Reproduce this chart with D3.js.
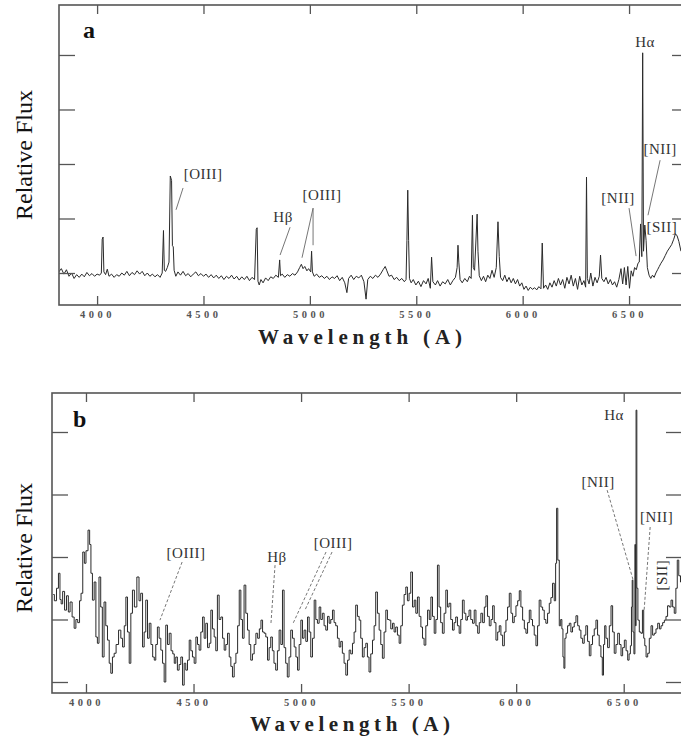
<!DOCTYPE html>
<html>
<head>
<meta charset="utf-8">
<script src="https://cdn.jsdelivr.net/npm/d3@7"></script>
<style>
  body { margin: 0; background: #fff; }
  svg { display: block; font-family: "Liberation Serif", "Times New Roman", serif; }
</style>
</head>
<body>
<svg id="chart" width="681" height="743"></svg>
<script>
// tick values shared by both panels
const xTicks = [4000, 4500, 5000, 5500, 6000, 6500];
const fluxTicks = [0, 1, 2, 3, 4];

// panel a spectrum: [wavelength (A), relative flux]
const specA = [
  [3820,0.02],[3832,0.08],[3844,-0.02],[3856,0.06],[3868,-0.06],[3880,0.00],[3892,-0.10],[3904,-0.03],
  [3916,-0.08],[3928,-0.02],[3940,-0.07],[3952,0.01],[3964,-0.05],[3976,-0.01],[3988,-0.06],[4000,-0.02],
  [4012,-0.04],[4020,0.00],[4024,0.62],[4028,0.66],[4032,0.02],[4040,-0.03],[4048,0.07],[4056,-0.06],
  [4068,-0.02],[4080,-0.08],[4092,-0.03],[4104,-0.06],[4116,0.00],[4128,-0.04],[4140,0.03],[4152,-0.05],
  [4164,0.01],[4176,-0.03],[4188,0.04],[4200,-0.02],[4212,0.03],[4224,-0.05],[4236,0.00],[4248,-0.06],
  [4260,-0.02],[4272,-0.07],[4284,-0.03],[4296,-0.08],[4306,0.00],[4312,0.78],[4316,0.05],[4322,0.03],
  [4330,0.10],[4338,0.20],[4344,1.78],[4350,1.70],[4354,0.50],[4358,0.48],[4362,0.05],[4370,-0.06],
  [4380,0.02],[4392,-0.04],[4404,0.03],[4416,-0.05],[4428,-0.01],[4440,-0.07],[4452,-0.02],[4464,0.02],
  [4476,-0.05],[4488,-0.01],[4500,-0.06],[4512,-0.02],[4524,-0.08],[4536,-0.03],[4548,-0.09],[4560,-0.04],
  [4572,-0.10],[4584,-0.05],[4596,-0.12],[4608,-0.06],[4620,-0.10],[4632,-0.04],[4644,-0.11],[4656,-0.06],
  [4668,-0.13],[4680,-0.07],[4692,-0.12],[4704,-0.06],[4716,-0.14],[4728,-0.08],[4740,-0.12],[4748,0.80],
  [4752,0.83],[4756,-0.15],[4762,-0.22],[4770,-0.12],[4780,-0.18],[4792,-0.09],[4804,-0.14],[4816,-0.07],
  [4828,-0.10],[4840,-0.04],[4852,-0.08],[4858,0.24],[4862,-0.05],[4870,-0.02],[4882,-0.08],[4894,-0.03],
  [4906,-0.06],[4918,-0.01],[4930,-0.04],[4942,0.02],[4952,0.10],[4960,0.16],[4968,0.08],[4976,0.12],
  [4986,0.04],[4994,0.08],[5004,0.02],[5008,0.40],[5012,0.02],[5020,-0.06],[5032,-0.02],[5044,-0.08],
  [5056,-0.05],[5068,-0.10],[5080,-0.06],[5092,-0.12],[5104,-0.07],[5116,-0.10],[5128,-0.05],[5140,-0.14],
  [5152,-0.08],[5164,-0.18],[5174,-0.36],[5182,-0.10],[5194,-0.04],[5206,-0.12],[5218,-0.06],[5230,-0.09],
  [5242,-0.04],[5254,-0.16],[5264,-0.48],[5272,-0.12],[5284,-0.06],[5296,-0.10],[5308,-0.04],[5320,-0.08],
  [5332,-0.02],[5344,0.06],[5354,0.12],[5362,0.04],[5372,-0.06],[5384,-0.04],[5396,-0.12],[5408,-0.08],
  [5420,-0.14],[5432,-0.10],[5444,-0.16],[5452,-0.12],[5456,0.60],[5460,1.52],[5464,0.60],[5468,-0.10],
  [5476,-0.18],[5486,-0.12],[5498,-0.22],[5510,-0.15],[5522,-0.25],[5534,-0.14],[5546,-0.20],[5556,-0.10],
  [5566,-0.28],[5572,0.29],[5578,-0.16],[5590,-0.22],[5600,-0.14],[5612,-0.24],[5624,-0.16],[5636,-0.20],
  [5648,-0.12],[5660,-0.22],[5672,-0.14],[5684,-0.08],[5692,0.10],[5696,0.51],[5700,0.20],[5706,-0.12],
  [5716,-0.18],[5728,-0.10],[5740,-0.16],[5750,-0.06],[5758,-0.10],[5764,1.06],[5768,0.10],[5774,0.05],
  [5786,1.08],[5790,0.40],[5796,-0.05],[5806,-0.14],[5816,-0.06],[5826,-0.16],[5836,-0.04],[5846,-0.10],
  [5856,0.05],[5866,-0.08],[5876,0.10],[5884,0.94],[5890,0.30],[5896,-0.08],[5906,-0.14],[5916,-0.04],
  [5926,-0.16],[5936,-0.08],[5946,-0.18],[5956,-0.10],[5966,-0.20],[5976,-0.12],[5986,-0.24],[5996,-0.18],
  [6006,-0.30],[6016,-0.24],[6026,-0.32],[6036,-0.26],[6046,-0.30],[6056,-0.27],[6066,-0.31],[6076,-0.25],
  [6086,-0.29],[6092,0.55],[6098,-0.28],[6108,-0.22],[6118,-0.30],[6128,-0.18],[6138,-0.26],[6148,-0.14],
  [6158,-0.24],[6168,-0.10],[6178,-0.22],[6188,-0.12],[6198,-0.28],[6208,-0.08],[6218,-0.20],[6228,-0.04],
  [6238,-0.24],[6248,-0.10],[6258,-0.30],[6268,-0.06],[6278,-0.22],[6288,-0.14],[6296,-0.26],[6300,1.76],
  [6304,-0.10],[6312,-0.20],[6320,0.00],[6330,-0.24],[6340,-0.08],[6350,-0.18],[6360,-0.06],[6366,0.33],
  [6372,-0.10],[6382,-0.16],[6392,-0.08],[6402,-0.20],[6412,-0.12],[6422,-0.22],[6432,-0.16],[6442,-0.26],
  [6452,-0.12],[6462,0.08],[6470,-0.20],[6478,0.10],[6486,-0.22],[6494,0.12],[6502,-0.28],[6510,0.04],
  [6518,-0.06],[6526,0.10],[6534,0.06],[6542,0.18],[6548,0.20],[6554,0.90],[6560,0.30],[6564,4.04],
  [6568,0.40],[6574,0.88],[6580,0.60],[6586,0.10],[6594,-0.04],[6602,-0.10],[6610,-0.04],[6618,-0.08],
  [6626,0.00],[6634,0.06],[6642,0.12],[6650,0.18],[6660,0.24],[6670,0.32],[6680,0.40],[6690,0.46],
  [6700,0.52],[6710,0.62],[6718,0.72],[6726,0.68],[6734,0.58],[6744,0.40],[6760,0.36]
];

// panel b spectrum: [wavelength (A), relative flux]
const specB = [
  [3848,1.40],[3858,1.30],[3868,1.50],[3876,1.74],[3882,1.32],[3887,1.25],[3896,1.45],[3905,1.15],
  [3914,1.38],[3922,1.12],[3930,1.28],[3941,1.04],[3949,0.86],[3957,1.00],[3966,0.95],[3974,1.30],
  [3980,1.42],[3990,2.08],[3995,1.90],[4005,2.10],[4014,2.43],[4020,2.20],[4026,1.74],[4034,1.31],
  [4042,1.60],[4050,0.72],[4056,0.62],[4065,1.68],[4072,1.20],[4080,0.40],[4088,1.28],[4096,0.90],
  [4104,0.67],[4112,0.30],[4119,0.14],[4127,0.40],[4135,0.46],[4145,0.60],[4158,0.83],[4166,0.70],
  [4174,0.56],[4182,0.90],[4189,1.36],[4197,0.80],[4205,0.30],[4212,1.10],[4220,1.47],[4230,1.20],
  [4243,1.68],[4250,1.30],[4259,1.42],[4267,0.56],[4274,0.80],[4282,1.31],[4290,0.70],[4298,0.94],
  [4306,0.60],[4314,0.40],[4321,0.35],[4328,0.60],[4336,0.88],[4344,0.70],[4352,0.51],[4360,0.30],
  [4367,0.00],[4375,0.91],[4383,0.60],[4391,0.78],[4400,0.50],[4407,0.45],[4414,0.30],[4421,0.40],
  [4429,0.19],[4437,0.28],[4445,0.40],[4453,-0.05],[4460,0.30],[4468,0.19],[4476,0.35],[4484,0.67],
  [4491,0.50],[4499,0.40],[4507,0.30],[4515,0.72],[4522,0.60],[4530,0.51],[4538,0.80],[4546,1.04],
  [4553,0.70],[4561,0.94],[4569,0.55],[4577,0.62],[4584,1.15],[4592,0.85],[4600,0.72],[4607,0.50],
  [4615,1.39],[4623,1.00],[4631,1.04],[4639,0.70],[4646,0.51],[4654,0.60],[4662,0.78],[4670,0.40],
  [4677,0.25],[4685,0.08],[4693,0.30],[4701,0.46],[4709,0.90],[4716,1.47],[4724,1.00],[4731,0.70],
  [4739,1.55],[4747,1.10],[4755,0.83],[4762,0.60],[4770,0.35],[4778,0.45],[4786,0.60],[4794,0.78],
  [4802,0.70],[4810,0.85],[4817,0.99],[4825,0.80],[4832,0.78],[4840,0.72],[4848,0.35],[4855,0.55],
  [4863,0.72],[4870,0.50],[4878,0.30],[4886,0.19],[4894,0.50],[4902,0.83],[4910,0.60],[4917,1.47],
  [4925,0.55],[4932,0.30],[4940,0.08],[4948,0.40],[4956,0.83],[4964,0.70],[4972,0.56],[4980,0.40],
  [4987,0.19],[4995,0.60],[5003,0.99],[5010,0.70],[5018,0.83],[5026,0.65],[5034,1.04],[5041,0.80],
  [5049,0.40],[5057,0.70],[5065,1.31],[5072,1.00],[5080,0.94],[5088,1.20],[5095,1.00],[5103,1.10],
  [5111,0.90],[5119,0.83],[5127,1.05],[5134,0.94],[5142,1.00],[5150,1.15],[5157,0.95],[5165,0.90],
  [5173,0.70],[5181,0.56],[5188,0.65],[5196,0.46],[5204,0.30],[5212,0.11],[5220,0.35],[5227,0.51],
  [5235,0.45],[5243,0.62],[5250,0.80],[5258,1.23],[5266,1.05],[5274,0.99],[5281,0.70],[5289,0.40],
  [5297,0.55],[5305,0.62],[5312,0.40],[5320,0.16],[5328,0.45],[5336,0.67],[5343,0.90],[5351,1.44],
  [5359,1.10],[5367,0.83],[5374,0.60],[5382,0.38],[5390,0.80],[5398,1.15],[5405,1.00],[5413,0.99],
  [5421,0.85],[5429,0.94],[5436,0.80],[5444,0.88],[5452,0.75],[5460,0.62],[5467,0.90],[5475,1.23],
  [5483,1.40],[5491,1.52],[5498,1.30],[5506,1.42],[5514,1.76],[5522,1.20],[5530,1.31],[5537,1.10],
  [5545,1.36],[5553,1.05],[5561,0.88],[5568,0.70],[5576,0.59],[5584,0.90],[5592,1.15],[5600,1.00],
  [5607,1.36],[5615,1.05],[5623,0.78],[5630,1.00],[5638,1.87],[5645,1.20],[5653,0.95],[5661,0.78],
  [5669,1.10],[5677,1.47],[5684,1.20],[5692,1.26],[5700,1.00],[5708,0.83],[5715,0.95],[5723,1.04],
  [5731,0.90],[5739,0.78],[5746,1.00],[5754,1.31],[5762,1.10],[5770,0.99],[5777,1.05],[5785,1.15],
  [5793,1.00],[5801,0.94],[5809,1.15],[5817,0.90],[5825,0.78],[5832,0.95],[5840,1.10],[5848,0.95],
  [5856,1.20],[5863,1.38],[5871,1.05],[5879,0.90],[5887,1.00],[5894,1.22],[5902,0.95],[5910,0.67],
  [5918,0.80],[5925,0.90],[5933,0.75],[5941,0.58],[5949,0.80],[5956,0.99],[5964,1.20],[5972,1.42],
  [5980,1.10],[5987,0.95],[5995,1.05],[6003,1.22],[6011,1.30],[6018,1.46],[6026,1.20],[6034,0.99],
  [6042,0.85],[6049,0.78],[6057,0.95],[6065,1.15],[6072,1.00],[6080,0.90],[6088,0.75],[6096,0.58],
  [6103,0.90],[6111,1.31],[6119,1.20],[6127,1.15],[6134,1.00],[6142,0.94],[6150,1.10],[6158,1.26],
  [6165,1.35],[6173,1.58],[6181,1.30],[6186,1.90],[6190,2.78],[6197,1.95],[6204,0.90],[6210,1.00],
  [6215,0.85],[6220,0.40],[6224,0.22],[6229,0.70],[6235,0.78],[6243,0.90],[6251,0.94],[6258,0.80],
  [6266,0.88],[6274,0.95],[6282,1.06],[6290,0.90],[6297,0.83],[6305,0.70],[6313,0.62],[6320,0.75],
  [6328,0.90],[6336,0.65],[6344,0.42],[6351,0.60],[6359,0.74],[6367,0.85],[6375,0.99],[6382,0.75],
  [6390,0.58],[6398,0.40],[6403,0.11],[6409,0.60],[6414,0.90],[6421,0.70],[6429,0.55],[6437,0.90],
  [6445,1.22],[6452,0.80],[6460,0.46],[6468,0.60],[6476,0.78],[6484,0.60],[6491,0.42],[6499,0.55],
  [6507,0.67],[6515,0.50],[6522,0.35],[6528,0.45],[6534,0.58],[6538,1.20],[6541,1.63],[6545,0.80],
  [6550,0.45],[6554,2.20],[6556,0.90],[6559,4.35],[6563,1.50],[6569,0.99],[6576,0.80],[6584,0.78],
  [6590,1.15],[6596,0.70],[6600,0.58],[6608,0.40],[6615,0.46],[6623,0.70],[6631,0.90],[6638,0.75],
  [6646,0.78],[6654,0.85],[6662,0.94],[6670,0.85],[6677,0.90],[6685,0.95],[6693,0.99],[6700,1.05],
  [6708,1.22],[6716,1.20],[6724,1.31],[6731,1.20],[6739,1.10],[6746,1.50],[6752,1.95],[6760,1.70],
  [6768,1.60]
];

// line identifications: label anchor and pointer segments in data units
const linesA = [
  { text: '[OIII]', at: [4498, 1.72], anchor: 'middle', ptr: [[4404, 1.56, 4371, 1.16]] },
  { text: 'Hβ',     at: [4874, 0.94], anchor: 'middle', ptr: [[4907, 0.84, 4860, 0.33]] },
  { text: '[OIII]', at: [5057, 1.34], anchor: 'middle', ptr: [[5015, 1.19, 4963, 0.28], [5015, 1.19, 5015, 0.51]] },
  { text: 'Hα',     at: [6575, 4.15], anchor: 'middle', ptr: [] },
  { text: '[NII]',  at: [6568, 2.18], anchor: 'start',  ptr: [[6646, 2.07, 6589, 1.06]] },
  { text: '[NII]',  at: [6448, 1.28], anchor: 'middle', ptr: [[6500, 1.19, 6533, 0.31]] },
  { text: '[SII]',  at: [6582, 0.75], anchor: 'start',  ptr: [] }
];
const linesB = [
  { text: '[OIII]', at: [4465, 1.98], anchor: 'middle', ptr: [[4447, 1.92, 4344, 0.99]] },
  { text: 'Hβ',     at: [4888, 1.92], anchor: 'middle', ptr: [[4879, 1.87, 4860, 0.94]] },
  { text: '[OIII]', at: [5149, 2.14], anchor: 'middle', ptr: [[5116, 2.08, 4963, 0.94], [5144, 2.08, 5018, 1.15]] },
  { text: 'Hα',     at: [6455, 4.19], anchor: 'middle', ptr: [] },
  { text: '[NII]',  at: [6381, 3.12], anchor: 'middle', ptr: [[6423, 3.07, 6544, 1.63]] },
  { text: '[NII]',  at: [6576, 2.56], anchor: 'start',  ptr: [[6623, 2.48, 6595, 1.15]] },
  { text: '[SII]',  at: [6679, 1.71], anchor: 'middle', ptr: [], rotate: true }
];

const svg = d3.select('#chart');

function drawPanel(cfg) {
  const g = svg.append('g');

  const x = d3.scaleLinear().domain(cfg.xDomain).range([cfg.left, cfg.right]);
  const y = d3.scaleLinear().domain(cfg.yDomain).range([cfg.bottom, cfg.top]);

  const clipId = 'clip-' + cfg.name;
  g.append('clipPath').attr('id', clipId)
    .append('rect')
    .attr('x', cfg.left).attr('y', cfg.top)
    .attr('width', cfg.right - cfg.left).attr('height', cfg.bottom - cfg.top);

  // spectrum
  const line = d3.line()
    .x(d => x(d[0]))
    .y(d => y(d[1]))
    .curve(cfg.curve);

  g.append('path')
    .datum(cfg.spec)
    .attr('clip-path', `url(#${clipId})`)
    .attr('fill', 'none')
    .attr('stroke', '#2a2a2a')
    .attr('stroke-width', 1)
    .attr('d', line);

  // axes with inward ticks
  const axes = [
    { gen: d3.axisBottom(x).tickValues(xTicks).tickSize(-cfg.tickX).tickPadding(6).tickFormat(d3.format('d')), at: `translate(0,${cfg.bottom})`, labels: true },
    { gen: d3.axisTop(x).tickValues(xTicks).tickSize(-cfg.tickX).tickFormat(''), at: `translate(0,${cfg.top})` },
    { gen: d3.axisLeft(y).tickValues(fluxTicks).tickSize(-cfg.tickY).tickFormat(''), at: `translate(${cfg.left},0)` },
    { gen: d3.axisRight(y).tickValues(fluxTicks).tickSize(-cfg.tickY).tickFormat(''), at: `translate(${cfg.right},0)` }
  ];
  axes.forEach(a => {
    const ag = g.append('g').attr('transform', a.at).call(a.gen);
    ag.select('.domain').remove();
    ag.selectAll('.tick line').attr('stroke', '#555').attr('stroke-width', 1.3);
    if (a.labels) {
      ag.selectAll('.tick text')
        .attr('fill', '#555')
        .style('font-family', '"Liberation Serif", serif')
        .style('font-size', '10.5px')
        .style('font-weight', 'bold')
        .style('letter-spacing', '3.5px');
    }
  });

  // frame
  g.append('rect')
    .attr('x', cfg.left).attr('y', cfg.top)
    .attr('width', cfg.right - cfg.left).attr('height', cfg.bottom - cfg.top)
    .attr('fill', 'none')
    .attr('stroke', '#555')
    .attr('stroke-width', 1.6);

  // line identifications
  cfg.lines.forEach(l => {
    l.ptr.forEach(p => {
      g.append('line')
        .attr('x1', x(p[0])).attr('y1', y(p[1]))
        .attr('x2', x(p[2])).attr('y2', y(p[3]))
        .attr('stroke', '#666')
        .attr('stroke-width', 0.9)
        .attr('stroke-dasharray', cfg.dash);
    });
    const t = g.append('text')
      .attr('fill', '#333')
      .style('font-size', '15px')
      .style('letter-spacing', '0.5px')
      .attr('text-anchor', l.anchor)
      .text(l.text);
    if (l.rotate) {
      t.attr('transform', `translate(${x(l.at[0]) + 5},${y(l.at[1])}) rotate(-90)`);
    } else {
      t.attr('x', x(l.at[0])).attr('y', y(l.at[1]));
    }
  });

  // panel letter
  g.append('text')
    .attr('x', cfg.letterPos[0]).attr('y', cfg.letterPos[1])
    .style('font-size', '24px')
    .style('font-weight', 'bold')
    .attr('fill', '#111')
    .text(cfg.name);

  // axis titles
  g.append('text')
    .attr('transform', `translate(${cfg.yTitle[0]},${cfg.yTitle[1]}) rotate(-90)`)
    .attr('text-anchor', 'middle')
    .style('font-size', '24px')
    .attr('fill', '#111')
    .text('Relative Flux');

  g.append('text')
    .attr('x', cfg.xTitle[0] - cfg.xTitleLen / 2).attr('y', cfg.xTitle[1])
    .attr('textLength', cfg.xTitleLen)
    .attr('lengthAdjust', 'spacing')
    .style('font-size', '21px')
    .style('font-weight', 'bold')
    .attr('fill', '#222')
    .text('Wavelength (A)');
}

drawPanel({
  name: 'a', spec: specA, lines: linesA,
  left: 59, right: 688, top: 5, bottom: 305,
  xDomain: [3821, 6777], yDomain: [-0.587, 4.917],
  tickX: 9, tickY: 16, curve: d3.curveLinear, dash: null,
  letterPos: [83, 38], yTitle: [32, 155], xTitle: [360, 344], xTitleLen: 204
});

drawPanel({
  name: 'b', spec: specB, lines: linesB,
  left: 52, right: 682, top: 393, bottom: 693,
  xDomain: [3842, 6771], yDomain: [-0.176, 4.624],
  tickX: 9, tickY: 16, curve: d3.curveStep, dash: '3,2',
  letterPos: [73, 427], yTitle: [32, 548], xTitle: [350, 731], xTitleLen: 200
});
</script>
</body>
</html>
